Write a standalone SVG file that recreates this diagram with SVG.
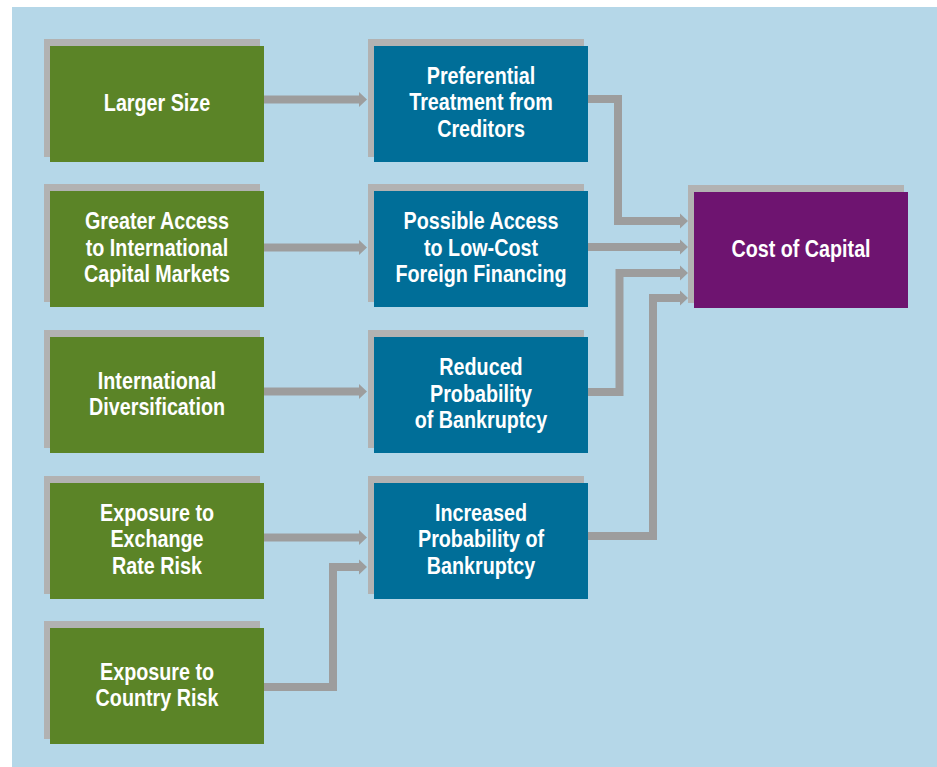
<svg xmlns="http://www.w3.org/2000/svg" width="937" height="767" viewBox="0 0 937 767">
<style>
.bg{fill:#b5d7e8}
.sh{fill:#b2b2b2}
.g{fill:#5b8427}
.b{fill:#006e98}
.p{fill:#6e1470}
.t{fill:#fff;font-family:"Liberation Sans",Arial,sans-serif;font-weight:bold;font-size:23.5px;text-anchor:middle}
.c{fill:none;stroke:#9d9d9d;stroke-width:8;stroke-linejoin:miter}
</style>
<defs>
<marker id="ah" markerUnits="userSpaceOnUse" markerWidth="8" markerHeight="16" refX="0" refY="7.5" orient="auto" overflow="visible">
<path d="M0,0 L8,7.5 L0,15 z" fill="#9d9d9d"/>
</marker>
</defs>
<rect class="bg" x="12" y="7" width="925" height="760"/>
<g id="n1"><rect class="sh" x="44" y="39" width="216" height="118"/><rect class="g" x="50" y="46" width="214" height="116"/><g transform="matrix(0.84,0,0,1,157,0)"><text class="t" x="0" y="111">Larger Size</text></g></g>
<g id="n2"><rect class="sh" x="44" y="184" width="216" height="118"/><rect class="g" x="50" y="191" width="214" height="116"/><g transform="matrix(0.84,0,0,1,157,0)"><text class="t" x="0" y="229.5">Greater Access</text><text class="t" x="0" y="256">to International</text><text class="t" x="0" y="282.5">Capital Markets</text></g></g>
<g id="n3"><rect class="sh" x="44" y="330" width="216" height="118"/><rect class="g" x="50" y="337" width="214" height="116"/><g transform="matrix(0.84,0,0,1,157,0)"><text class="t" x="0" y="389">International</text><text class="t" x="0" y="415.5">Diversification</text></g></g>
<g id="n4"><rect class="sh" x="44" y="476" width="216" height="118"/><rect class="g" x="50" y="483" width="214" height="116"/><g transform="matrix(0.84,0,0,1,157,0)"><text class="t" x="0" y="521">Exposure to</text><text class="t" x="0" y="547.5">Exchange</text><text class="t" x="0" y="574">Rate Risk</text></g></g>
<g id="n5"><rect class="sh" x="44" y="621" width="216" height="118"/><rect class="g" x="50" y="628" width="214" height="116"/><g transform="matrix(0.84,0,0,1,157,0)"><text class="t" x="0" y="680">Exposure to</text><text class="t" x="0" y="706.5">Country Risk</text></g></g>
<g id="m1"><rect class="sh" x="368" y="39" width="216" height="118"/><rect class="b" x="374" y="46" width="214" height="116"/><g transform="matrix(0.84,0,0,1,481,0)"><text class="t" x="0" y="84">Preferential</text><text class="t" x="0" y="110.5">Treatment from</text><text class="t" x="0" y="137">Creditors</text></g></g>
<g id="m2"><rect class="sh" x="368" y="184" width="216" height="118"/><rect class="b" x="374" y="191" width="214" height="116"/><g transform="matrix(0.84,0,0,1,481,0)"><text class="t" x="0" y="229.5">Possible Access</text><text class="t" x="0" y="256">to Low-Cost</text><text class="t" x="0" y="282.5">Foreign Financing</text></g></g>
<g id="m3"><rect class="sh" x="368" y="330" width="216" height="118"/><rect class="b" x="374" y="337" width="214" height="116"/><g transform="matrix(0.84,0,0,1,481,0)"><text class="t" x="0" y="375.5">Reduced</text><text class="t" x="0" y="402">Probability</text><text class="t" x="0" y="428.5">of Bankruptcy</text></g></g>
<g id="m4"><rect class="sh" x="368" y="476" width="216" height="118"/><rect class="b" x="374" y="483" width="214" height="116"/><g transform="matrix(0.84,0,0,1,481,0)"><text class="t" x="0" y="521">Increased</text><text class="t" x="0" y="547.5">Probability of</text><text class="t" x="0" y="574">Bankruptcy</text></g></g>
<g id="cost"><rect class="sh" x="688" y="185" width="216" height="118"/><rect class="p" x="694" y="192" width="214" height="116"/><g transform="matrix(0.84,0,0,1,801,0)"><text class="t" x="0" y="257.5">Cost of Capital</text></g></g>
<g id="connectors">
<path class="c" marker-end="url(#ah)" d="M264,99.5 H359"/>
<path class="c" marker-end="url(#ah)" d="M264,247.5 H359"/>
<path class="c" marker-end="url(#ah)" d="M264,391.5 H359"/>
<path class="c" marker-end="url(#ah)" d="M264,537.5 H359"/>
<path class="c" marker-end="url(#ah)" d="M264,687 H333 V567 H359"/>
<path class="c" marker-end="url(#ah)" d="M588,99 H618 V221 H680"/>
<path class="c" marker-end="url(#ah)" d="M588,247 H680"/>
<path class="c" marker-end="url(#ah)" d="M588,392 H619.5 V273 H680"/>
<path class="c" marker-end="url(#ah)" d="M588,536 H653 V298 H680"/>
</g>
</svg>
